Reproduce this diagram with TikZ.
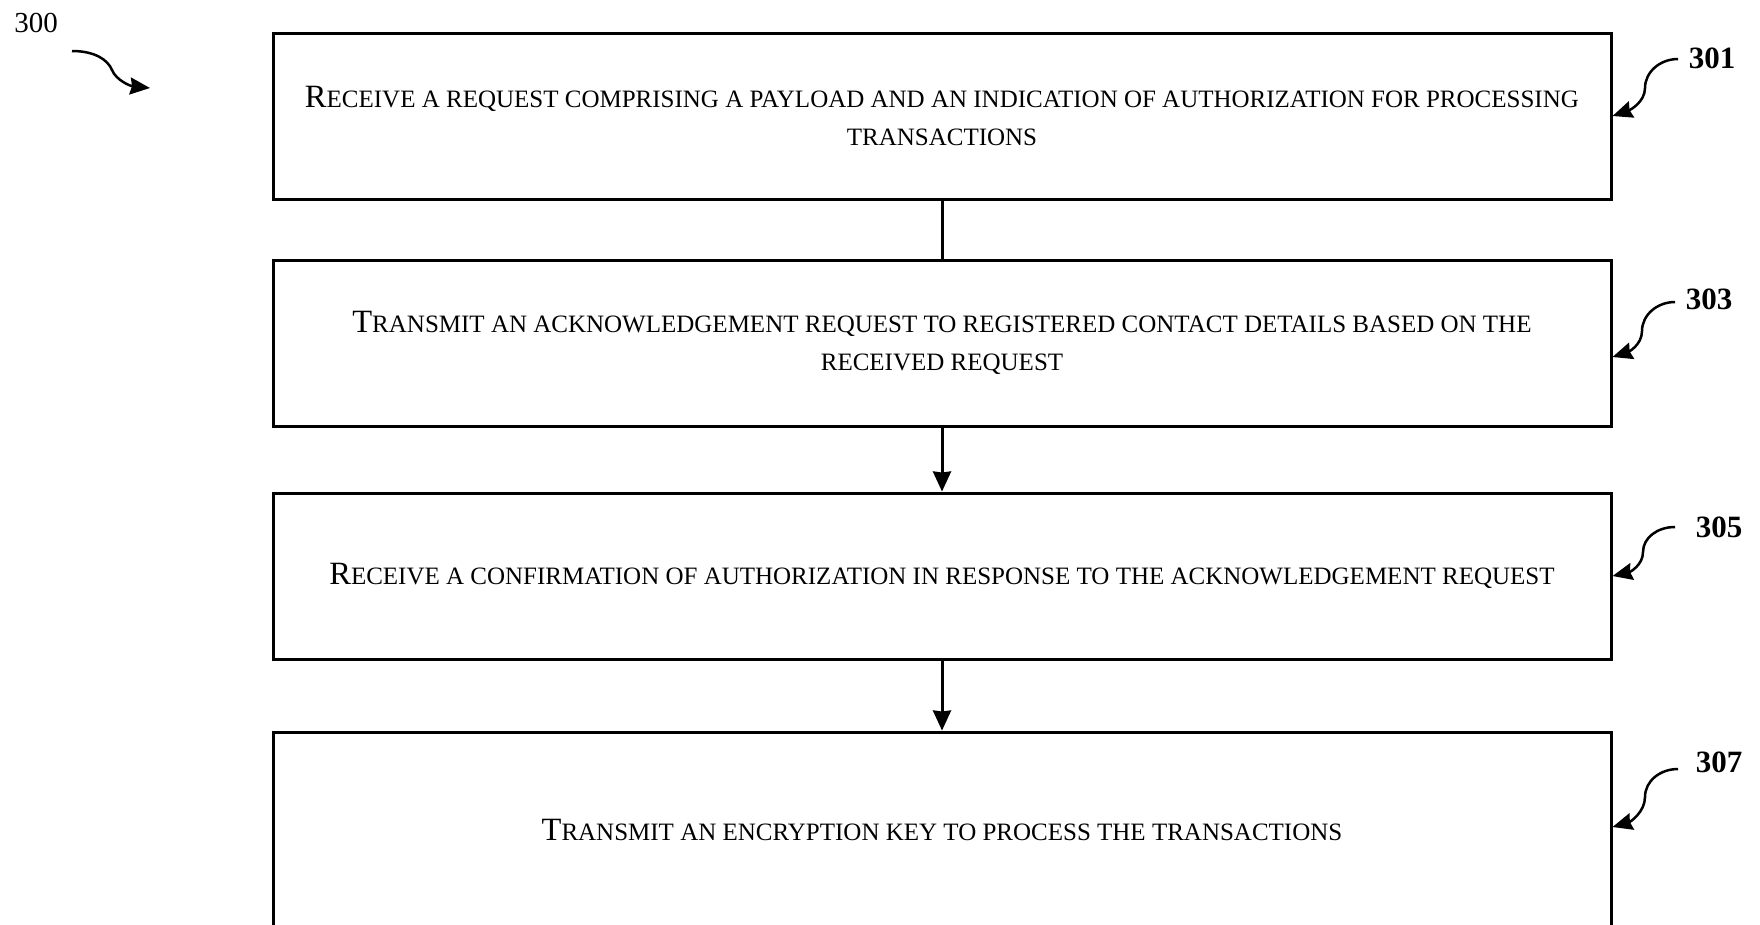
\documentclass[tikz,border=0pt]{standalone}
\usepackage{fontspec}
\setmainfont{Liberation Serif}
\usetikzlibrary{arrows.meta}
\newcommand\BigC[1]{{\fontsize{32.5}{38.5}\selectfont #1}}
\begin{document}
\begin{tikzpicture}[x=1pt,y=-1pt,
  stepbox/.style={draw, line width=3pt, rectangle, minimum width=1338pt, inner sep=0pt, align=center,
     font=\fontsize{25}{38.5}\selectfont},
  lbl/.style={font=\fontsize{31}{31}\selectfont\bfseries, inner sep=0pt},
  flow/.style={line width=3pt, -{Stealth[length=20pt,width=18pt,inset=1pt]}},
  flowplain/.style={line width=3pt},
  ref/.style={line width=2.5pt, -{Stealth[length=20pt,width=17pt,inset=2pt]}}]
\useasboundingbox (0,0) rectangle (1760,924);

\node[stepbox, minimum height=166pt] (b1) at (942,116)
  {\BigC{R}ECEIVE A REQUEST COMPRISING A PAYLOAD AND AN INDICATION OF AUTHORIZATION FOR PROCESSING\\TRANSACTIONS};
\node[stepbox, minimum height=166pt] (b2) at (942,343)
  {\BigC{T}RANSMIT AN ACKNOWLEDGEMENT REQUEST TO REGISTERED CONTACT DETAILS BASED ON THE\\RECEIVED REQUEST};
\node[stepbox, minimum height=166pt] (b3) at (942,576)
  {\BigC{R}ECEIVE A CONFIRMATION OF AUTHORIZATION IN RESPONSE TO THE ACKNOWLEDGEMENT REQUEST};
\node[stepbox, minimum height=196pt] (b4) at (942,830)
  {\BigC{T}RANSMIT AN ENCRYPTION KEY TO PROCESS THE TRANSACTIONS};

\draw[flowplain] (b1) -- (b2);
\draw[flow] (b2) -- (b3);
\draw[flow] (b3) -- (b4);

% figure label
\node[font=\fontsize{29}{29}\selectfont, inner sep=0pt] (l300) at (36,23) {300};
\coordinate (s300) at (72,51);
\coordinate (e300) at (150,88);
\draw[ref] (s300) .. controls (95,51) and (108,60) .. (112,70)
  .. controls (116,80) and (130,86) .. (e300);

% reference labels
\node[lbl] (l301) at (1712,58) {301};
\coordinate (s301) at (1678,59);
\draw[ref] (s301) .. controls (1660,59) and (1645,72) .. (1645,88)
  .. controls (1645,102) and (1630,110) .. (b1.east);

\node[lbl] (l303) at (1709,299) {303};
\coordinate (s303) at (1675,302);
\draw[ref] (s303) .. controls (1657,302) and (1642,315) .. (1642,331)
  .. controls (1642,345) and (1628,352) .. ([yshift=-14pt]b2.east);

\node[lbl] (l305) at (1719,527) {305};
\coordinate (s305) at (1675,527);
\draw[ref] (s305) .. controls (1657,527) and (1643,538) .. (1643,552)
  .. controls (1643,565) and (1630,572) .. (b3.east);

\node[lbl] (l307) at (1719,762) {307};
\coordinate (s307) at (1678,769);
\draw[ref] (s307) .. controls (1660,769) and (1645,781) .. (1645,797)
  .. controls (1645,812) and (1630,822) .. ([yshift=3pt]b4.east);
\end{tikzpicture}
\end{document}
